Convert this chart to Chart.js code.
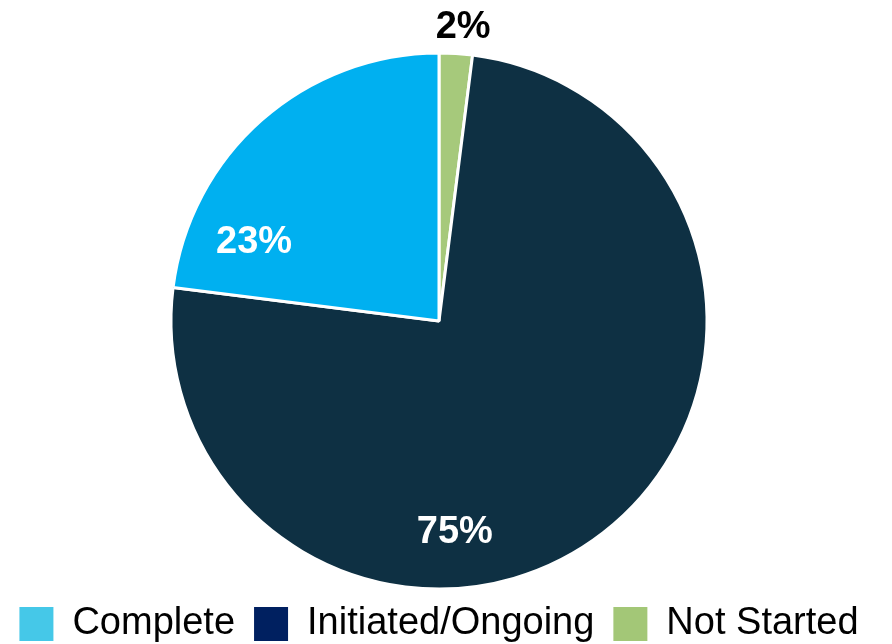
<!DOCTYPE html>
<html>
<head>
<meta charset="utf-8">
<script src="https://cdn.jsdelivr.net/npm/chart.js@4"></script>
<style>
  html, body { margin: 0; padding: 0; background: #fff; }
  #wrap { width: 892px; height: 644px; }
</style>
</head>
<body>
<div id="wrap"><canvas id="pie" width="892" height="644"></canvas></div>
<script>
// data, clockwise from 12 o'clock
const categories = ['Not Started', 'Initiated/Ongoing', 'Complete'];
const values = [2, 75, 23];
const sliceColors = ['#A6C97B', '#0E3043', '#00B0F0'];
const legendColors = ['#A3C777', '#002060', '#45C8E8'];

// where each percent label sits (degrees clockwise from top, fraction of radius)
const labelAngle = [4.7, 175.7, 293.1];
const labelDist = [1.1, 0.79, 0.75];
const labelColors = ['#000000', '#ffffff', '#ffffff'];

const total = values.reduce((a, b) => a + b, 0);

const pctLabels = {
  id: 'pctLabels',
  afterDatasetsDraw(chart) {
    const ctx = chart.ctx;
    const meta = chart.getDatasetMeta(0);
    ctx.save();
    ctx.font = 'bold 38px "Liberation Sans", Arial, sans-serif';
    ctx.textAlign = 'center';
    ctx.textBaseline = 'middle';
    meta.data.forEach((arc, i) => {
      const a = labelAngle[i] * Math.PI / 180;
      const r = arc.outerRadius * labelDist[i];
      const x = arc.x + Math.sin(a) * r;
      const y = arc.y - Math.cos(a) * r;
      ctx.fillStyle = labelColors[i];
      ctx.fillText(Math.round(values[i] / total * 100) + '%', x, y);
    });
    ctx.restore();
  }
};

new Chart(document.getElementById('pie').getContext('2d'), {
  type: 'pie',
  data: {
    labels: categories,
    datasets: [{
      data: values,
      backgroundColor: sliceColors,
      borderColor: '#ffffff',
      borderWidth: 3,
      radius: 268,
      clip: false
    }]
  },
  options: {
    responsive: false,
    animation: false,
    layout: { padding: { top: 56, bottom: -9, left: 0, right: 14 } },
    plugins: {
      tooltip: { enabled: false },
      legend: {
        position: 'bottom',
        labels: {
          boxWidth: 34,
          boxHeight: 34,
          padding: 19,
          color: '#000000',
          font: { size: 38, family: '"Liberation Sans", Arial, sans-serif' },
          generateLabels: () => categories.map((c, i) => ({
            text: c,
            fillStyle: legendColors[i],
            strokeStyle: legendColors[i],
            lineWidth: 0,
            hidden: false,
            index: i
          })).reverse()
        }
      }
    }
  },
  plugins: [pctLabels]
});
</script>
</body>
</html>
